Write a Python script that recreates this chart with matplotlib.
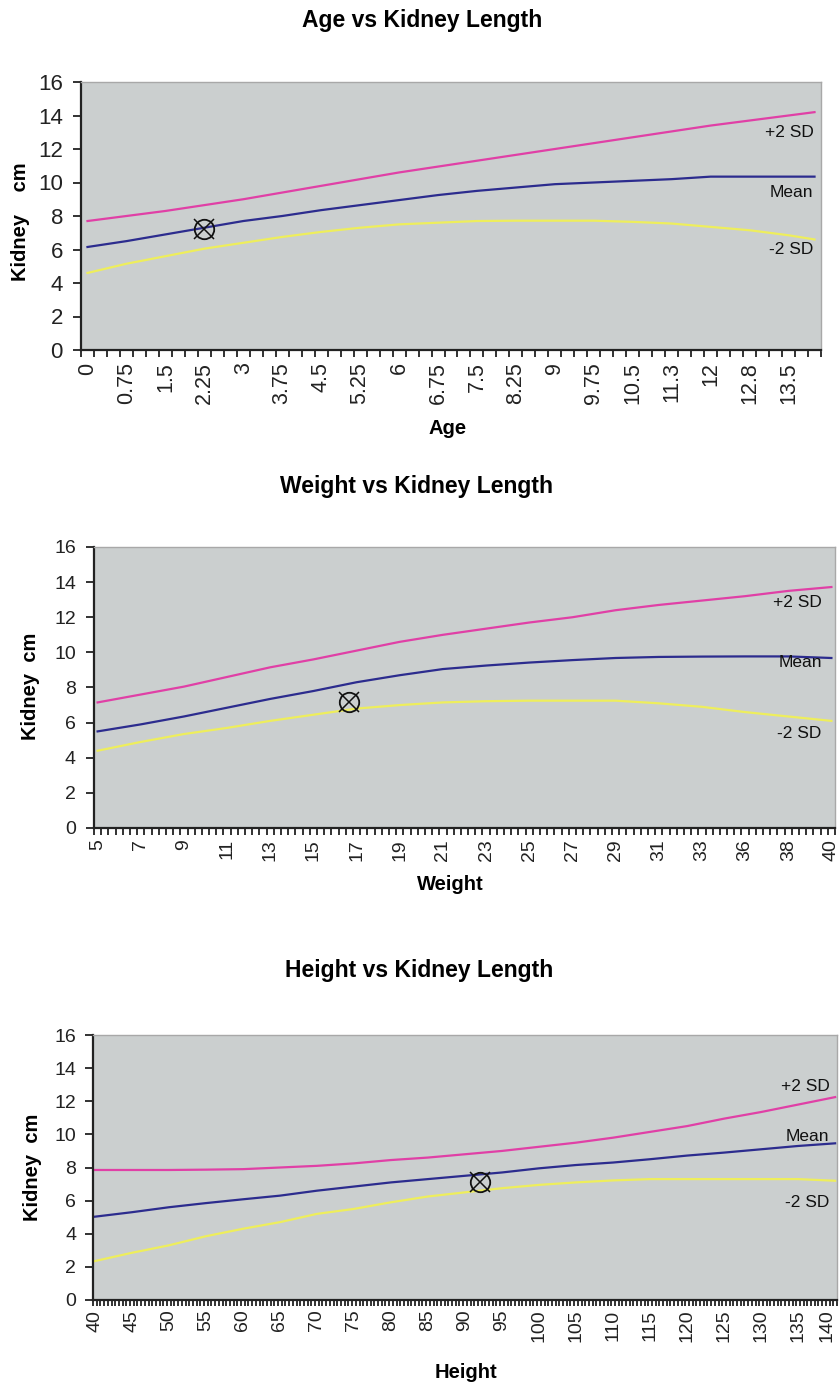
import numpy as np
import matplotlib
matplotlib.use('Agg')
import matplotlib.pyplot as plt
from matplotlib.ticker import FixedLocator, NullFormatter
import matplotlib.transforms as mtransforms

plt.rcParams['font.family'] = ['Liberation Sans', 'DejaVu Sans']

# ---------------- data ----------------
# Chart 1: Age (years) vs kidney length (cm)
age_tick_labels = ['0', '0.75', '1.5', '2.25', '3', '3.75', '4.5', '5.25', '6', '6.75',
                   '7.5', '8.25', '9', '9.75', '10.5', '11.3', '12', '12.8', '13.5']
age_points = [0, 0.75, 1.5, 2.25, 3, 3.75, 4.5, 5.25, 6, 6.75, 7.5, 8.25, 9, 9.75,
              10.5, 11.25, 12, 12.75, 13.5, 14]
age_plus2 = [7.7, 8.0, 8.3, 8.65, 9.0, 9.4, 9.8, 10.2, 10.6, 10.95, 11.3, 11.65, 12.0,
             12.35, 12.7, 13.05, 13.4, 13.7, 14.0, 14.2]
age_mean = [6.15, 6.5, 6.9, 7.3, 7.7, 8.0, 8.35, 8.65, 8.95, 9.25, 9.5, 9.7, 9.9, 10.0,
            10.1, 10.2, 10.35, 10.35, 10.35, 10.35]
age_minus2 = [4.6, 5.15, 5.6, 6.05, 6.4, 6.75, 7.05, 7.3, 7.5, 7.6, 7.7, 7.72, 7.72,
              7.72, 7.65, 7.55, 7.35, 7.15, 6.85, 6.6]

# Chart 2: Weight (kg) vs kidney length (cm)
weight_tick_labels = ['5', '7', '9', '11', '13', '15', '17', '19', '21', '23', '25', '27',
                      '29', '31', '33', '36', '38', '40']
weight_plus2 = [7.15, 7.6, 8.05, 8.6, 9.15, 9.6, 10.1, 10.6, 11.0, 11.35, 11.7, 12.0,
                12.4, 12.7, 12.95, 13.2, 13.5, 13.72]
weight_mean = [5.5, 5.9, 6.35, 6.85, 7.35, 7.8, 8.3, 8.7, 9.05, 9.25, 9.42, 9.56,
               9.68, 9.74, 9.76, 9.77, 9.77, 9.68]
weight_minus2 = [4.4, 4.9, 5.35, 5.7, 6.1, 6.45, 6.8, 7.0, 7.15, 7.22, 7.25, 7.25,
                 7.25, 7.1, 6.9, 6.6, 6.35, 6.1]

# Chart 3: Height (cm) vs kidney length (cm)
height_tick_labels = [str(h) for h in range(40, 145, 5)]
height_points = list(range(40, 145, 5))
height_plus2 = [7.85, 7.85, 7.85, 7.87, 7.9, 8.0, 8.1, 8.25, 8.45, 8.6, 8.8, 9.0, 9.25,
                9.5, 9.8, 10.15, 10.5, 10.95, 11.35, 11.8, 12.25]
height_mean = [5.03, 5.3, 5.6, 5.85, 6.08, 6.3, 6.6, 6.85, 7.1, 7.3, 7.5, 7.7, 7.95,
               8.15, 8.3, 8.5, 8.72, 8.9, 9.1, 9.3, 9.46]
height_minus2 = [2.35, 2.85, 3.3, 3.85, 4.3, 4.7, 5.2, 5.5, 5.9, 6.25, 6.5, 6.75, 6.95,
                 7.1, 7.22, 7.3, 7.3, 7.3, 7.3, 7.3, 7.2]

# Patient
patient_age = 2.25
patient_weight = 16.67
patient_height = 92
patient_kidney = 7.2

# ---------------- style ----------------
PINK = '#e040a6'
NAVY = '#2c2c8e'
YELLOW = '#eeee5c'
BG = '#cbcfcf'
W, H = 839, 1385

fig = plt.figure(figsize=(W / 100, H / 100), dpi=100)
fig.patch.set_facecolor('white')


def fr(left, top, right, bottom):
    return [left / W, 1 - bottom / H, (right - left) / W, (bottom - top) / H]


def style_axes(ax, xlim, minor, major, labels, tick_fs, ylab_fs, ticklen, pad_x, pad_y):
    ax.set_facecolor(BG)
    ax.set_ylim(0, 16)
    ax.set_xlim(*xlim)
    ax.set_yticks(np.arange(0, 17, 2))
    ax.xaxis.set_major_locator(FixedLocator(major))
    ax.set_xticklabels(labels, rotation=90, fontsize=tick_fs, color='#222222')
    ax.xaxis.set_minor_locator(FixedLocator(minor))
    ax.xaxis.set_minor_formatter(NullFormatter())
    ax.tick_params(axis='x', which='major', length=0, pad=pad_x)
    ax.tick_params(axis='x', which='minor', length=ticklen, width=1.3, direction='out',
                   color='#222222')
    ax.tick_params(axis='y', which='major', length=6, width=1.3, direction='out',
                   labelsize=ylab_fs, labelcolor='#222222', pad=pad_y, color='#222222')
    for s in ['left', 'bottom']:
        ax.spines[s].set_color('#222222')
        ax.spines[s].set_linewidth(1.6)
    for s in ['top', 'right']:
        ax.spines[s].set_color('#a8a8a8')
        ax.spines[s].set_linewidth(1.0)


def curves(ax, x, p2, m, m2):
    ax.plot(x, p2, color=PINK, lw=1.6, solid_joinstyle='round')
    ax.plot(x, m, color=NAVY, lw=1.6, solid_joinstyle='round')
    ax.plot(x, m2, color=YELLOW, lw=1.6, solid_joinstyle='round')


def patient(ax, x, y):
    ax.plot([x], [y], marker='o', ms=14, mfc='none', mec='#111111', mew=1.3, zorder=5)
    ax.plot([x], [y], marker='x', ms=14, mec='#111111', mew=1.1, zorder=5)


def sd_labels(ax, xr, ys, fs=12.5):
    tr = mtransforms.blended_transform_factory(ax.transAxes, ax.transData)
    for txt, y in zip(['+2 SD', 'Mean', '-2 SD'], ys):
        ax.text(xr, y, txt, transform=tr, ha='right', va='center', fontsize=fs,
                color='#111111')


# ---- Chart 1: Age ----
ax1 = fig.add_axes(fr(81, 82, 821, 350))
curves(ax1, age_points, age_plus2, age_mean, age_minus2)
patient(ax1, patient_age, patient_kidney)
style_axes(ax1, (-0.125, 14.125), np.arange(-0.125, 14.2, 0.25),
           [float(l) if l not in ('11.3', '12.8') else float(l) - 0.05 for l in age_tick_labels],
           age_tick_labels, 15.5, 16, 5, 9, 7)
sd_labels(ax1, 0.99, [13.0, 9.4, 6.0])

# ---- Chart 2: Weight ----
ax2 = fig.add_axes(fr(94, 547, 835, 828))
slots = np.arange(len(weight_tick_labels))
curves(ax2, slots, weight_plus2, weight_mean, weight_minus2)
wvals = [float(v) for v in weight_tick_labels]
patient(ax2, np.interp(patient_weight, wvals, slots), patient_kidney)
style_axes(ax2, (-1 / 12, len(slots) - 1 + 1 / 12),
           np.arange(-1 / 12, len(slots), 1 / 6), slots, weight_tick_labels,
           14, 14, 5, 8, 7)
sd_labels(ax2, 0.982, [12.85, 9.45, 5.36])

# ---- Chart 3: Height ----
ax3 = fig.add_axes(fr(93, 1035, 837, 1300))
curves(ax3, height_points, height_plus2, height_mean, height_minus2)
patient(ax3, patient_height, 7.1)
style_axes(ax3, (39.75, 140.25), np.arange(39.75, 140.3, 0.5), height_points,
           height_tick_labels, 14, 14, 4, 7, 6)
ax3.get_xticklabels()[-1].set_horizontalalignment('right')
sd_labels(ax3, 0.99, [12.88, 9.86, 5.9])

# ---- titles and axis labels ----
def ftext(x, y, s, **kw):
    fig.text(x / W, 1 - y / H, s, **kw)

ftext(422, 20, 'Age vs Kidney Length', ha='center', va='center', fontsize=16.5,
      fontweight='bold')
ftext(417, 487, 'Weight vs Kidney Length', ha='center', va='center', fontsize=16.5,
      fontweight='bold')
ftext(419, 970, 'Height vs Kidney Length', ha='center', va='center', fontsize=16.5,
      fontweight='bold')

ftext(448, 429, 'Age', ha='center', va='center', fontsize=14.5, fontweight='bold')
ftext(450, 885, 'Weight', ha='center', va='center', fontsize=14.5, fontweight='bold')
ftext(466, 1372, 'Height', ha='center', va='center', fontsize=14.5, fontweight='bold')

ftext(21, 222, 'Kidney    cm', ha='center', va='center', rotation=90, fontsize=14.5,
      fontweight='bold')
ftext(30, 686, 'Kidney  cm', ha='center', va='center', rotation=90, fontsize=14.5,
      fontweight='bold')
ftext(33, 1167, 'Kidney  cm', ha='center', va='center', rotation=90, fontsize=14.5,
      fontweight='bold')

fig.savefig('out.png', dpi=100, facecolor='white')
